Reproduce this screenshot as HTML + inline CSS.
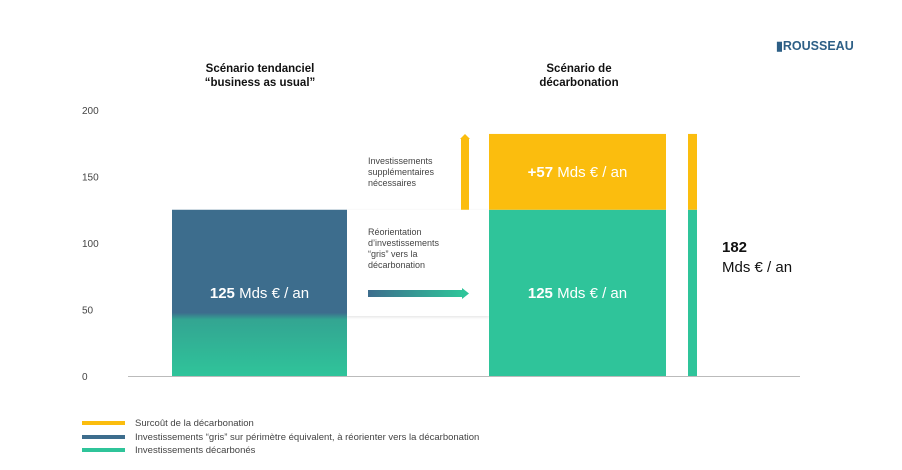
<!DOCTYPE html>
<html><head><meta charset="utf-8"><style>
body{margin:0;background:#fff;width:902px;height:470px;overflow:hidden;font-family:"Liberation Sans",sans-serif}
svg{display:block}
</style></head><body>
<svg id="chart" width="902" height="470">
<defs>
<linearGradient id="gBlue" x1="0" y1="0" x2="0" y2="1">
<stop offset="0" stop-color="#3d6d8d"/><stop offset="0.62" stop-color="#3d6d8d"/><stop offset="0.66" stop-color="#33a592"/><stop offset="1" stop-color="#2fc49a"/></linearGradient>
<linearGradient id="gArrow" x1="0" y1="0" x2="1" y2="0">
<stop offset="0" stop-color="#3d6d8d"/><stop offset="1" stop-color="#2fc49a"/></linearGradient>
<filter id="sh" x="-10%" y="-10%" width="120%" height="130%"><feDropShadow dx="0" dy="1" stdDeviation="1.5" flood-color="#000" flood-opacity="0.12"/></filter>
</defs>
<text x="776" y="50" font-size="12.5" font-weight="bold" fill="#2d5f86">▮ROUSSEAU</text>
<text x="260" y="72" font-size="11.5" font-weight="bold" text-anchor="middle" fill="#111">Scénario tendanciel</text>
<text x="260" y="86" font-size="11.5" font-weight="bold" text-anchor="middle" fill="#111">“business as usual”</text>
<text x="579" y="72" font-size="11.5" font-weight="bold" text-anchor="middle" fill="#111">Scénario de</text>
<text x="579" y="86" font-size="11.5" font-weight="bold" text-anchor="middle" fill="#111">décarbonation</text>
<g id="ticks"></g>
<rect x="347" y="210" width="142" height="106" fill="#fff" filter="url(#sh)"/>
<g id="bars"></g>
<line x1="128" y1="376.5" x2="800" y2="376.5" stroke="#bbb" stroke-width="1"/>
<g font-size="9" fill="#444">
<text x="368" y="164">Investissements</text>
<text x="368" y="175">supplémentaires</text>
<text x="368" y="186">nécessaires</text>
<text x="368" y="235">Réorientation</text>
<text x="368" y="246">d’investissements</text>
<text x="368" y="257">“gris” vers la</text>
<text x="368" y="268">décarbonation</text>
</g>
<rect x="368" y="290" width="94" height="7" fill="url(#gArrow)"/>
<polygon points="462,288 469,293.5 462,299" fill="#2fc49a"/>
<text x="722" y="252" font-size="15" font-weight="bold" fill="#111">182</text>
<text x="722" y="272" font-size="15" fill="#111">Mds € / an</text>
<g font-size="9.5" fill="#444">
<rect x="82" y="421" width="43" height="4" fill="#fbbd0e"/>
<text x="135" y="426">Surcoût de la décarbonation</text>
<rect x="82" y="435" width="43" height="4" fill="#3d6d8d"/>
<text x="135" y="440">Investissements “gris” sur périmètre équivalent, à réorienter vers la décarbonation</text>
<rect x="82" y="448" width="43" height="4" fill="#2fc49a"/>
<text x="135" y="453">Investissements décarbonés</text>
</g>
</svg>
<script>
const tickValues=[0,50,100,150,200];
const baseline=[125,125];
const extra=[0,57];
const labelsBase=["125","125"];
const labelExtra="+57";
const Y0=376,PX=133/100;
function y(v){return Y0-v*PX;}
const NS="http://www.w3.org/2000/svg";
const tg=document.getElementById('ticks');
tickValues.forEach(v=>{const t=document.createElementNS(NS,'text');
t.setAttribute('x',82);t.setAttribute('y',y(v)+4);t.setAttribute('font-size','10');t.setAttribute('fill','#444');t.textContent=v;


tg.appendChild(t);});
const bg=document.getElementById('bars');
function rect(x,y1,w,h,f,name){const r=document.createElementNS(NS,'rect');r.setAttribute('x',x);r.setAttribute('y',y1);r.setAttribute('width',w);r.setAttribute('height',h);r.setAttribute('fill',f);


bg.appendChild(r);}
function txt(cx,yy,b,rest,name){const t=document.createElementNS(NS,'text');t.setAttribute('x',cx);t.setAttribute('y',yy);t.setAttribute('text-anchor','middle');t.setAttribute('font-size','15');t.setAttribute('fill','#fff');
t.innerHTML='<tspan font-weight="bold">'+b+'</tspan> Mds € / an';


bg.appendChild(t);}
rect(172,y(baseline[0]),175,Y0-y(baseline[0]),'url(#gBlue)','bar-tendanciel');
txt(259.5,y(baseline[0]/2)+5,labelsBase[0],'','label-tendanciel');
rect(489,y(baseline[1]),177,Y0-y(baseline[1]),'#2fc49a','bar-decarbone');
rect(489,y(baseline[1]+extra[1]),177,y(baseline[1])-y(baseline[1]+extra[1]),'#fbbd0e','bar-surcout');
txt(577.5,y(baseline[1]/2)+5,labelsBase[1],'','label-decarbone');
txt(577.5,y(baseline[1]+extra[1]/2)+5,labelExtra,'','label-surcout');
rect(688,y(baseline[1]),9,Y0-y(baseline[1]),'#2fc49a','total-bar-decarbone');
rect(688,y(baseline[1]+extra[1]),9,y(baseline[1])-y(baseline[1]+extra[1]),'#fbbd0e','total-bar-surcout');
rect(461,y(baseline[1]+extra[1])+4,8,y(baseline[1])-y(baseline[1]+extra[1])-4,'#fbbd0e','extra-arrow');
const p=document.createElementNS(NS,'polygon');
const ay=y(baseline[1]+extra[1]);
p.setAttribute('points',`460,${ay+5} 465,${ay} 470,${ay+5}`);p.setAttribute('fill','#fbbd0e');


bg.appendChild(p);
</script>
</body></html>
